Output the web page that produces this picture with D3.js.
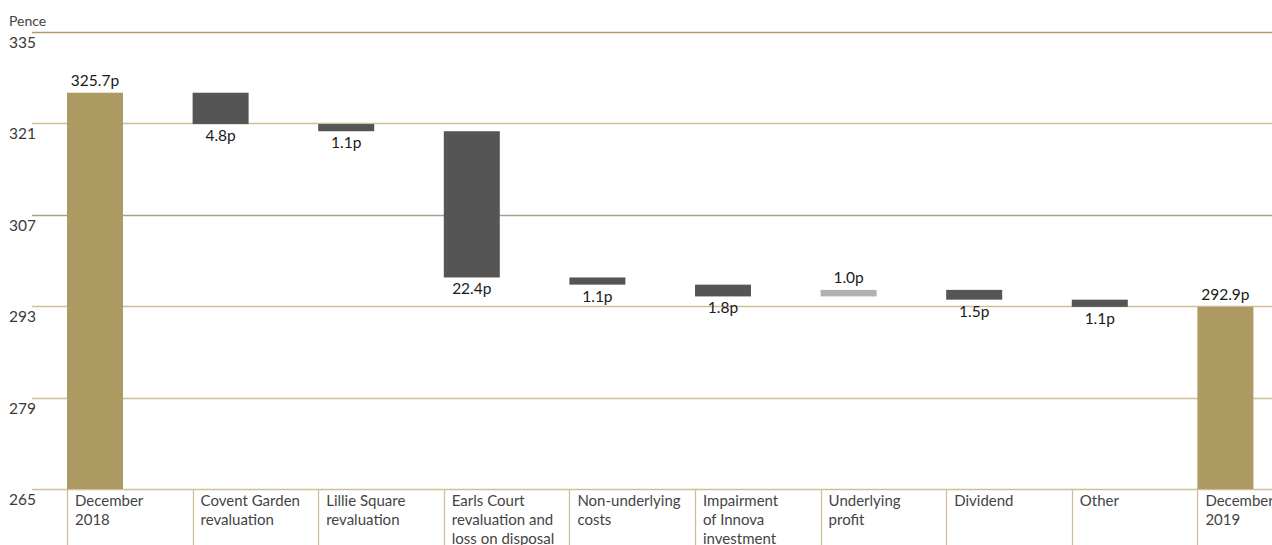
<!DOCTYPE html>
<html><head><meta charset="utf-8">
<script src="https://cdn.jsdelivr.net/npm/d3@7"></script>
<style>
html,body{margin:0;padding:0;background:#fff;}
svg{display:block;font-family:Lato,"Open Sans",sans-serif;}
</style></head>
<body><svg id="c" width="1272" height="545"></svg>
<script>
const categories = [
  ["December","2018"],
  ["Covent Garden","revaluation"],
  ["Lillie Square","revaluation"],
  ["Earls Court","revaluation and","loss on disposal"],
  ["Non-underlying","costs"],
  ["Impairment","of Innova","investment"],
  ["Underlying","profit"],
  ["Dividend"],
  ["Other"],
  ["December","2019"]
];
// type: total / change (signed)
const types = ["total","change","change","change","change","change","change","change","change","total"];
const values = [325.7, -4.8, -1.1, -22.4, -1.1, -1.8, 1.0, -1.5, -1.1, 292.9];
const valueLabels = ["325.7p","4.8p","1.1p","22.4p","1.1p","1.8p","1.0p","1.5p","1.1p","292.9p"];
const yTicks = [265, 279, 293, 307, 321, 335];
const yMin = 265, yMax = 335;

const svg = d3.select("#c");
const y = d3.scaleLinear().domain([yMin, yMax]).range([489, 32]);
const x = d3.scaleBand().domain(d3.range(categories.length)).range([67, 67 + 125.6*categories.length]).paddingInner(0).paddingOuter(0);
const barW = 56;

// compute waterfall
let run = 0;
const bars = values.map((v,i)=>{
  let lo, hi, kind;
  if (types[i]==="total"){ lo = yMin; hi = v; run = v; kind="total"; }
  else { const s = run, e = run + v; lo = Math.min(s,e); hi = Math.max(s,e); run = e; kind = v<0?"neg":"pos"; }
  return {i, lo, hi, kind};
});

// gridlines
const gridColor = t => t===335 ? "#ae9a60" : (t===307 ? "#a8a08a" : "#cdbf96");
svg.append("g").selectAll("line").data(yTicks).join("line")
  .attr("x1", 32).attr("x2", 1272)
  .attr("y1", d=>Math.round(y(d))+0.5).attr("y2", d=>Math.round(y(d))+0.5)
  .attr("stroke", d=>gridColor(d)).attr("stroke-width", 1.3);

// y tick labels
svg.append("g").selectAll("text").data(yTicks).join("text")
  .attr("x", 9).attr("y", d=>y(d)+16)
  .attr("font-size", 15.5).attr("fill", "#3a3a3a").text(d=>d);

svg.append("text").attr("x", 9).attr("y", 26).attr("font-size", 14).attr("fill","#444").text("Pence");

// vertical separators
svg.append("g").selectAll("line").data(d3.range(categories.length)).join("line")
  .attr("x1", d=>Math.round(x(d))+0.5).attr("x2", d=>Math.round(x(d))+0.5)
  .attr("y1", 489).attr("y2", 545)
  .attr("stroke", "#cdbf96").attr("stroke-width", 1.3);

// bars
const fill = {total:"#ac9a62", neg:"#555555", pos:"#b1b1b1"};
svg.append("g").selectAll("rect").data(bars).join("rect")
  .attr("x", d=>x(d.i)).attr("width", barW)
  .attr("y", d=>y(d.hi)).attr("height", d=>Math.max(1, y(d.lo)-y(d.hi)))
  .attr("fill", d=>fill[d.kind]);

// value labels
svg.append("g").selectAll("text").data(bars).join("text")
  .attr("x", d=>x(d.i)+barW/2)
  .attr("y", d=> d.kind==="neg" ? y(d.lo)+17 : y(d.hi)-7)
  .attr("text-anchor","middle").attr("font-size", 15.5).attr("fill","#1a1a1a")
  .text(d=>valueLabels[d.i]);

// category labels
const cg = svg.append("g");
categories.forEach((lines,i)=>{
  const t = cg.append("text").attr("x", x(i)+8).attr("y", 506)
    .attr("font-size", 15).attr("fill","#444");
  lines.forEach((l,k)=>t.append("tspan").attr("x", x(i)+8).attr("dy", k===0?0:19).text(l));
});
</script></body></html>
